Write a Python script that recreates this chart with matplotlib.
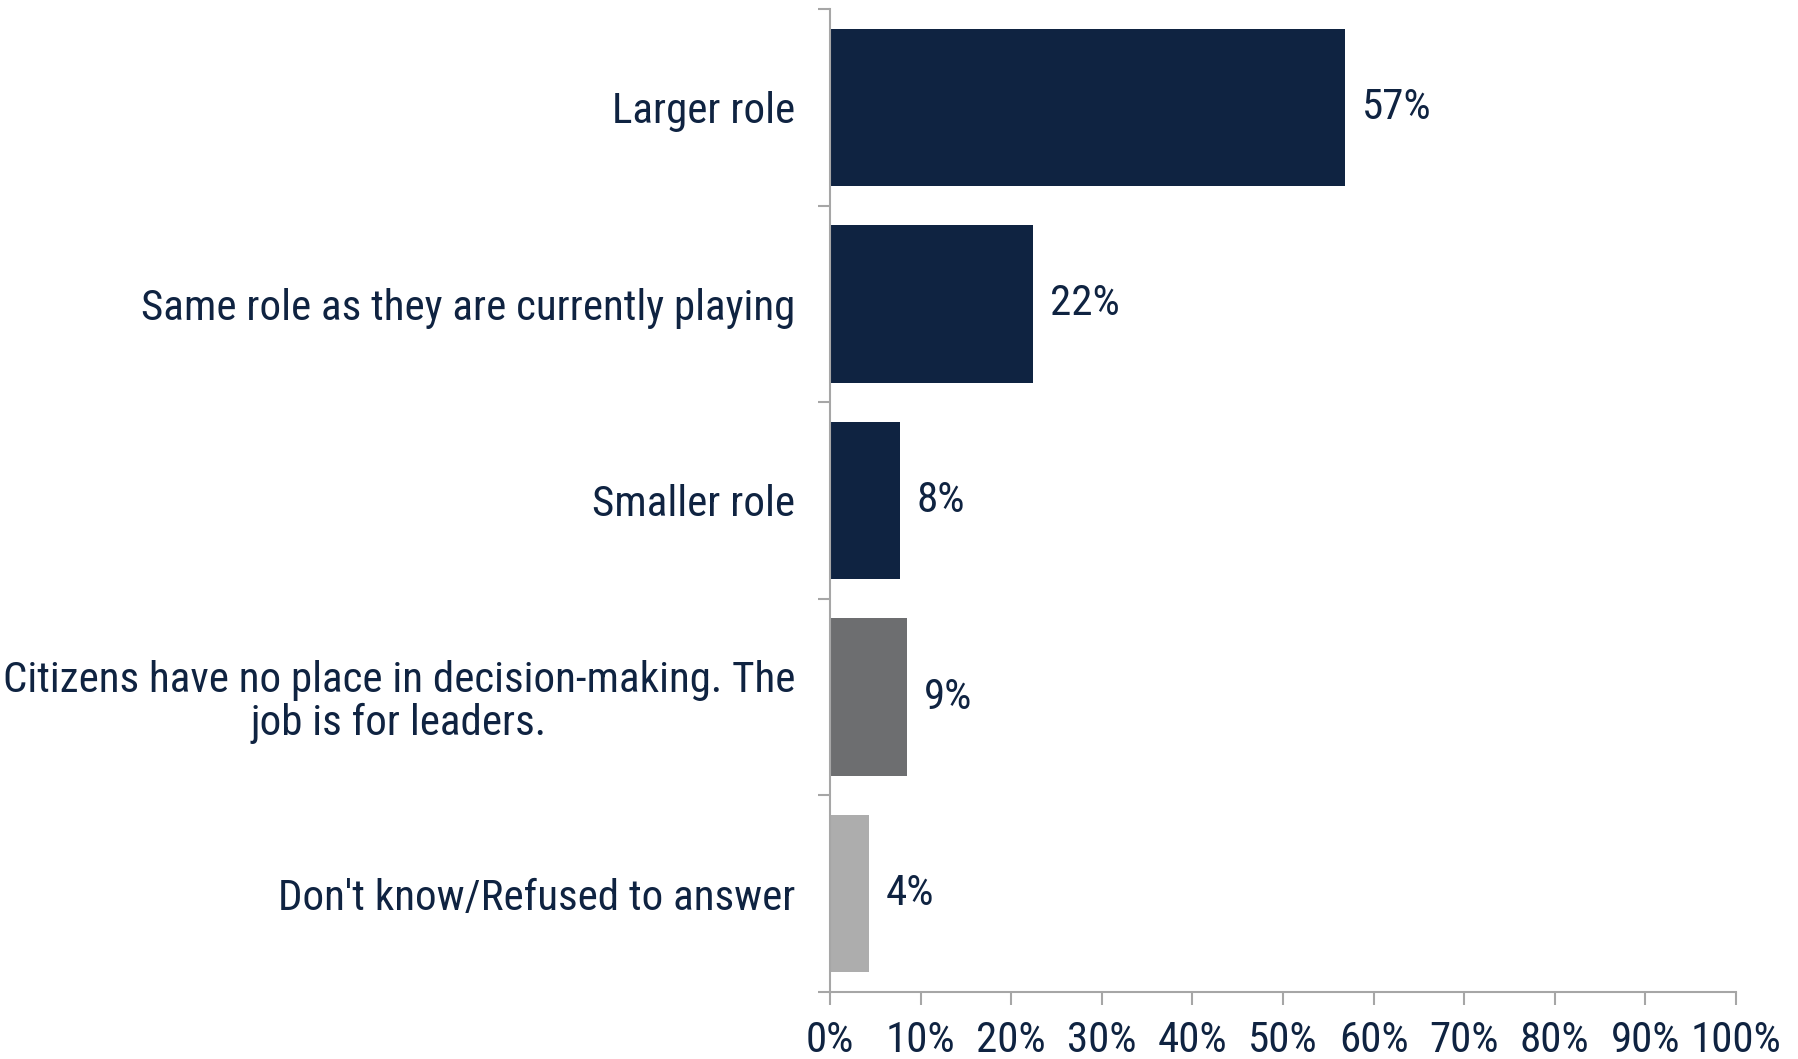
import matplotlib
matplotlib.use("Agg")
import matplotlib.pyplot as plt
import numpy as np

categories = [
    "Larger role",
    "Same role as they are currently playing",
    "Smaller role",
    "Citizens have no place in decision-making. The\njob is for leaders.",
    "Don't know/Refused to answer",
]
values = [56.8, 22.4, 7.7, 8.5, 4.3]
value_labels = ["57%", "22%", "8%", "9%", "4%"]
bar_colors = ["#0F2341", "#0F2341", "#0F2341", "#6D6E70", "#ADADAD"]
x_ticks = [0, 10, 20, 30, 40, 50, 60, 70, 80, 90, 100]

text_color = "#0F2341"
axis_color = "#A6A6A6"
plt.rcParams['font.family'] = ['Roboto Condensed', 'Roboto', 'DejaVu Sans']
fs = 31

fig = plt.figure(figsize=(17.98, 10.59), dpi=100)
ax = fig.add_axes([0.4616, 0.0633, 0.5039, 0.9282])

y = np.arange(len(categories))
ax.barh(y, values, height=0.8, color=bar_colors)
ax.set_ylim(len(categories) - 0.5, -0.5)
ax.set_xlim(0, 100)

for yi, v, lab in zip(y, values, value_labels):
    ax.text(v + 1.9, yi, lab, va='center', ha='left', fontsize=fs, color=text_color)

ax.set_yticks(y)
ax.set_yticklabels(categories, fontsize=fs, color=text_color, multialignment='center',
                   linespacing=1.05)
ax.set_yticks(np.arange(len(categories) + 1) - 0.5, minor=True)
ax.tick_params(axis='y', which='major', length=0, pad=25)
ax.tick_params(axis='y', which='minor', length=9, width=1.5, color=axis_color)

ax.set_xticks(x_ticks)
ax.set_xticklabels([f"{t}%" for t in x_ticks], fontsize=fs, color=text_color)
ax.tick_params(axis='x', length=9, width=1.5, color=axis_color, pad=11)

for s in ['top', 'right']:
    ax.spines[s].set_visible(False)
for s in ['left', 'bottom']:
    ax.spines[s].set_color(axis_color)
    ax.spines[s].set_linewidth(1.5)

fig.savefig("out.png", dpi=100)
